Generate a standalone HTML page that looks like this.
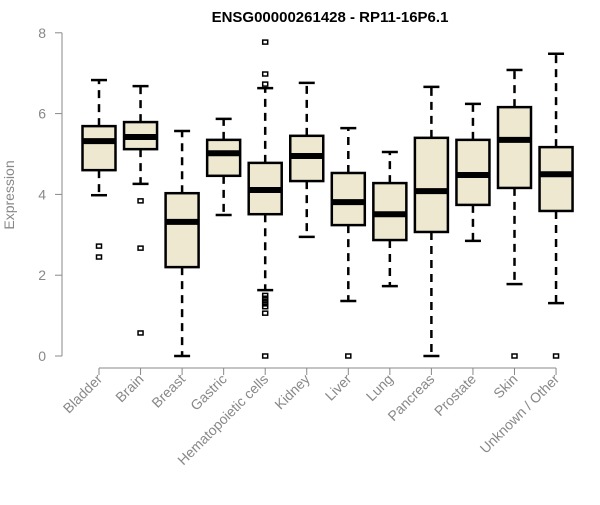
<!DOCTYPE html>
<html><head><meta charset="utf-8"><style>
body{margin:0;background:#fff;}
svg{font-family:"Liberation Sans",sans-serif;}
</style></head><body>
<svg id="c" width="600" height="500"></svg>
<script>
const categories=["Bladder","Brain","Breast","Gastric","Hematopoietic cells","Kidney","Liver","Lung","Pancreas","Prostate","Skin","Unknown / Other"];
const whiskerLow=[3.98,4.26,0,3.49,1.63,2.95,1.36,1.73,0,2.85,1.78,1.31];
const q1=[4.6,5.12,2.2,4.46,3.51,4.33,3.24,2.87,3.07,3.74,4.16,3.59];
const median=[5.32,5.42,3.32,5.02,4.11,4.95,3.81,3.51,4.08,4.48,5.35,4.5];
const q3=[5.69,5.79,4.03,5.35,4.78,5.45,4.53,4.28,5.4,5.35,6.16,5.17];
const whiskerHigh=[6.83,6.68,5.57,5.87,6.63,6.76,5.64,5.05,6.66,6.24,7.08,7.48];
const outliers=[[2.72,2.45],[3.84,2.67,0.57],[],[],[7.77,6.98,6.73,1.5,1.43,1.36,1.29,1.22,1.06,0],[],[0],[],[],[],[0],[0]];
const yTicks=[0,2,4,6,8];
const NS="http://www.w3.org/2000/svg";
const svg=document.getElementById('c');
const y=v=>356-v*40.4;
const x=i=>99+i*41.55;
function el(t,a,p){const e=document.createElementNS(NS,t);for(const k in a)e.setAttribute(k,a[k]);(p||svg).appendChild(e);return e;}
const title=el('text',{x:330,y:22,'text-anchor':'middle','font-size':15,'font-weight':'bold',fill:'#000'});
title.textContent="ENSG00000261428 - RP11-16P6.1";


const yl=el('text',{x:14,y:195,'text-anchor':'middle','font-size':14,fill:'#888',transform:'rotate(-90 14 195)'});
yl.textContent="Expression";


const ya=el('line',{x1:62,x2:62,y1:y(8),y2:y(0),stroke:'#888','stroke-width':1});


yTicks.forEach(t=>{
 el('line',{x1:55,x2:62,y1:y(t),y2:y(t),stroke:'#888'});
 const tl=el('text',{x:46,y:y(t)+5,'text-anchor':'end','font-size':14,fill:'#888'});
 tl.textContent=t;
 
 
});
const xa=el('line',{x1:x(0),x2:x(11),y1:368,y2:368,stroke:'#888'});


categories.forEach((c,i)=>{
 const cx=x(i),w=33;
 el('line',{x1:cx,x2:cx,y1:368,y2:375,stroke:'#888'});
 const g=el('g',{});
 
 
 const ds={stroke:'#000','stroke-width':2.5,'stroke-dasharray':'8,6'};
 el('line',Object.assign({x1:cx,x2:cx,y1:y(q3[i]),y2:y(whiskerHigh[i])},ds),g);
 el('line',Object.assign({x1:cx,x2:cx,y1:y(q1[i]),y2:y(whiskerLow[i])},ds),g);
 el('line',{x1:cx-8,x2:cx+8,y1:y(whiskerHigh[i]),y2:y(whiskerHigh[i]),stroke:'#000','stroke-width':2.5},g);
 el('line',{x1:cx-8,x2:cx+8,y1:y(whiskerLow[i]),y2:y(whiskerLow[i]),stroke:'#000','stroke-width':2.5},g);
 el('rect',{x:cx-w/2,y:y(q3[i]),width:w,height:y(q1[i])-y(q3[i]),fill:'#ede8cf',stroke:'#000','stroke-width':2.5},g);
 el('line',{x1:cx-w/2,x2:cx+w/2,y1:y(median[i]),y2:y(median[i]),stroke:'#000','stroke-width':6},g);
 outliers[i].forEach(o=>{el('rect',{x:cx-2.5,y:y(o)-2,width:5,height:4,fill:'none',stroke:'#000','stroke-width':1.5},g);});
 const lx=cx+4,ly=380;
 const t=el('text',{x:lx,y:ly,'text-anchor':'end','font-size':14,fill:'#888',transform:`rotate(-45 ${lx} ${ly})`});
 t.textContent=c;
 
 
});
</script>
</body></html>
